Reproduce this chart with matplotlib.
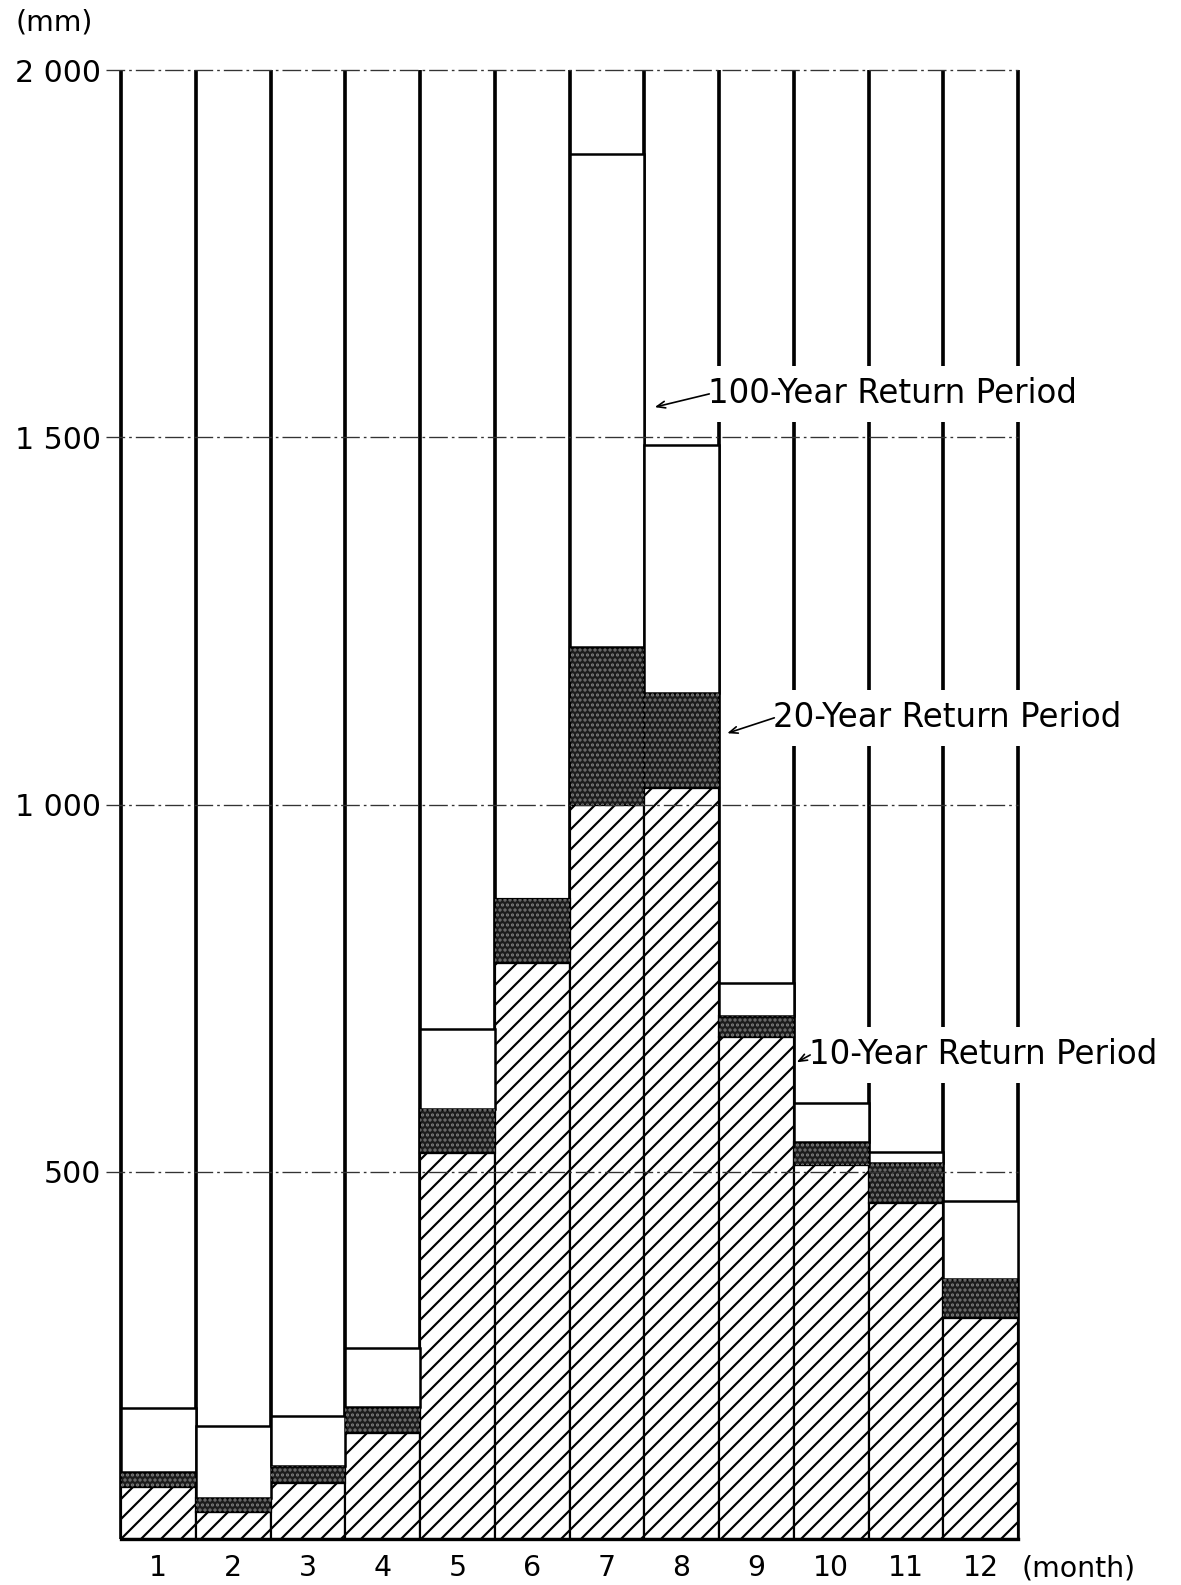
import numpy as np
import matplotlib.pyplot as plt

plt.rcParams['font.family'] = ['DejaVu Sans']
plt.rcParams['hatch.linewidth'] = 1.3

# monthly rainfall (mm) for each return period
months = list(range(1, 13))
p10 = [71, 37, 76, 144, 526, 784, 1000, 1022, 684, 509, 457, 301]
p20 = [91, 56, 99, 180, 586, 872, 1214, 1152, 712, 540, 512, 354]
p100 = [178, 154, 167, 260, 695, np.nan, 1886, 1489, 757, 594, 527, 460]  # Jun off the chart

yticks = [500, 1000, 1500, 2000]
ylabels = ['500', '1 000', '1 500', '2 000']

W, H, DPI = 1181, 1585, 120
fig = plt.figure(figsize=(W / DPI, H / DPI), dpi=DPI)
ax = fig.add_axes([121 / W, 1 - 1539 / H, (1018 - 121) / W, (1539 - 70) / H])

x = np.array(months)
a10 = np.array(p10, float)
a20 = np.array(p20, float)
a100 = np.array(p100, float)

# column frame lines up to the top
ax.vlines(np.arange(0.5, 13, 1), 0, 2000, colors='black', lw=2.2, zorder=1,
          clip_on=False)

ax.bar(x, a10, width=1.0, facecolor='white', edgecolor='black', lw=1.3,
       hatch='//', zorder=2)
ax.bar(x, a20 - a10, bottom=a10, width=1.0, facecolor='#1c1c1c',
       edgecolor='black', lw=1.3, zorder=2)
ax.bar(x, a20 - a10, bottom=a10, width=1.0, fill=False, hatch='....',
       edgecolor='#7a7a7a', lw=0, zorder=2.1)
ax.bar(x, a100 - a20, bottom=a20, width=1.0, facecolor='white',
       edgecolor='black', lw=1.5, zorder=2)

# dash-dot grid lines
for yv in yticks:
    ax.plot([0.3, 12.5], [yv, yv], color='#333333', lw=0.8,
            ls=(0, (14, 3, 2, 3)), clip_on=False, zorder=3)
ax.plot([0.5, 12.5], [0, 0], color='black', lw=2.0, clip_on=False, zorder=3)

ax.set_xlim(0.5, 12.5)
ax.set_ylim(0, 2000)
ax.set_xticks(months)
ax.set_xticklabels([str(m) for m in months], fontsize=17)
ax.set_yticks(yticks)
ax.set_yticklabels(ylabels, fontsize=18)
ax.tick_params(axis='x', length=0, pad=9)
ax.tick_params(axis='y', length=0, pad=12)
for s in ax.spines.values():
    s.set_visible(False)

fig.text(15 / W, 1 - 22 / H, '(mm)', fontsize=17, ha='left', va='center')
fig.text(1021 / W, 1 - 1569 / H, '(month)', fontsize=17, ha='left', va='center')

# labels with arrows
notes = [
    ('100-Year Return Period', (8.35, 1559), (7.64, 1541)),
    ('20-Year Return Period', (9.22, 1118), (8.61, 1097)),
    ('10-Year Return Period', (9.70, 659), (9.54, 649)),
]
for txt, (tx, ty), (hx, hy) in notes:
    ax.text(tx, ty, txt, fontsize=19.5, ha='left', va='center', zorder=5,
            clip_on=False,
            bbox=dict(boxstyle='square,pad=0.35', fc='white', ec='none'))
    ax.annotate('', xy=(hx, hy), xytext=(tx + 0.02, ty), zorder=6,
                annotation_clip=False,
                arrowprops=dict(arrowstyle='->,head_length=0.5,head_width=0.2',
                                lw=1.0, color='black', shrinkA=0, shrinkB=0))

fig.savefig('out.png', dpi=DPI)
